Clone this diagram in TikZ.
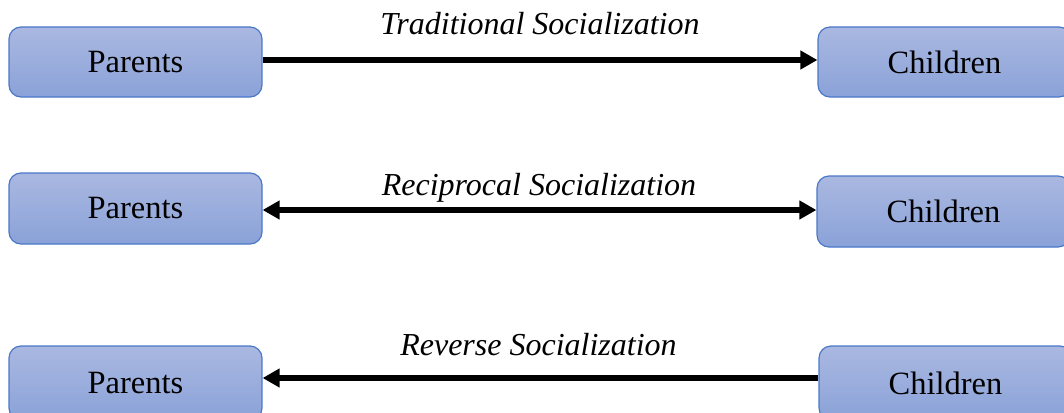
\documentclass[tikz,border=0pt]{standalone}
\usepackage{fontspec}
\setmainfont{Liberation Serif}
\usetikzlibrary{arrows.meta}
\definecolor{boxtop}{HTML}{AAB8E1}
\definecolor{boxbot}{HTML}{8AA2D8}
\definecolor{boxline}{HTML}{4A78C8}
\tikzset{
  agent/.style={rounded corners=12pt, draw=boxline, line width=1.2pt,
    top color=boxtop, bottom color=boxbot, minimum width=253pt,
    font=\fontsize{32.5}{34}\selectfont, inner sep=0pt},
  flow/.style={line width=5.5pt, black},
  tipend/.style={-{Triangle[length=17pt,width=18pt]}},
  tipboth/.style={{Triangle[length=17pt,width=18pt]}-{Triangle[length=17pt,width=18pt]}},
  tipstart/.style={{Triangle[length=17pt,width=18pt]}-},
  lab/.style={font=\itshape\fontsize{32}{34}\selectfont, anchor=base, inner sep=0pt}
}
\begin{document}
\begin{tikzpicture}[x=1pt,y=-1pt]
\clip (0,0) rectangle (1064,412);
\fill[white] (0,0) rectangle (1064,412);
% row 1
\node[agent, minimum height=70pt] (p1) at (135.5,62) {Parents};
\node[agent, minimum height=70pt] (c1) at (944.5,62) {Children};
\coordinate (y1) at (0,60);
\draw[flow, tipend] (p1.east |- y1) -- (c1.west |- y1);
\node[lab] (l1) at (540,35) {Traditional Socialization};
% row 2
\node[agent, minimum height=71pt] (p2) at (135.5,208.5) {Parents};
\node[agent, minimum height=71pt] (c2) at (943.5,211.5) {Children};
\coordinate (y2) at (0,210);
\draw[flow, tipboth] (p2.east |- y2) -- (c2.west |- y2);
\node[lab] (l2) at (539,195) {Reciprocal Socialization};
% row 3
\node[agent, minimum height=74pt] (p3) at (135.5,383) {Parents};
\node[agent, minimum height=74pt] (c3) at (945.5,383) {Children};
\coordinate (y3) at (0,378);
\draw[flow, tipstart] (p3.east |- y3) -- (c3.west |- y3);
\node[lab] (l3) at (538.5,355) {Reverse Socialization};
\end{tikzpicture}
\end{document}
